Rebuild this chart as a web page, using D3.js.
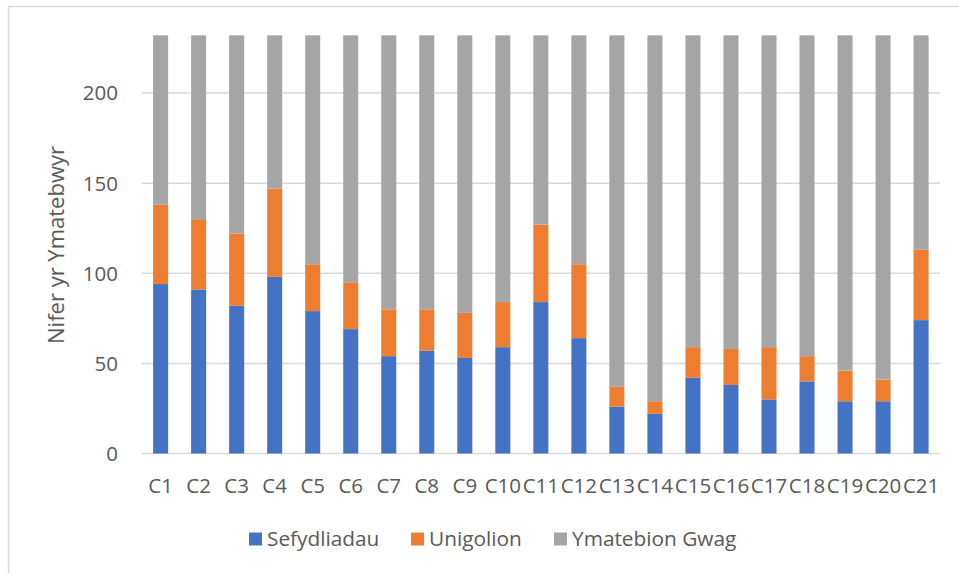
<!DOCTYPE html>
<html>
<head>
<meta charset="utf-8">
<script src="https://cdn.jsdelivr.net/npm/d3@7"></script>
<style>
  body { margin: 0; background: #fff; }
  svg { display: block; }
  text { font-family: "Open Sans", sans-serif; fill: #595959; }
</style>
</head>
<body>
<div id="chart"></div>
<script>
// chart data
var categories = ["C1","C2","C3","C4","C5","C6","C7","C8","C9","C10","C11",
                  "C12","C13","C14","C15","C16","C17","C18","C19","C20","C21"];
var sefydliadau = [94, 91, 82, 98, 79, 69, 54, 57, 53, 59, 84, 64, 26, 22, 42, 38, 30, 40, 29, 29, 74];
var unigolion   = [44, 39, 40, 49, 26, 26, 26, 23, 25, 25, 43, 41, 11, 7, 17, 20, 29, 14, 17, 12, 39];
var gwag        = [94, 102, 110, 85, 127, 137, 152, 152, 154, 148, 105, 127, 195, 203, 173, 174, 173, 178, 186, 191, 119];
var seriesNames = ["Sefydliadau", "Unigolion", "Ymatebion Gwag"];
var yTicks = [0, 50, 100, 150, 200];

var colors = ["#4472C4", "#ED7D31", "#A5A5A5"];
var width = 959, height = 573;

var svg = d3.select("#chart").append("svg")
  .attr("width", width)
  .attr("height", height);

// outer chart frame (cropped at right/bottom)
svg.append("path")
  .attr("d", "M8.5,573 V6.5 H959")
  .attr("fill", "none")
  .attr("stroke", "#d9d9d9")
  .attr("stroke-width", 1.5);

var plotLeft = 141.7, plotRight = 940;

var x = d3.scaleBand()
  .domain(categories)
  .range([plotLeft, plotRight])
  .paddingInner(0.605)
  .paddingOuter(0.3);

var y = d3.scaleLinear()
  .domain([0, 200])
  .range([453.5, 93]);

// gridlines
svg.append("g").selectAll("line")
  .data(yTicks)
  .enter()
  .append("line")
  .attr("x1", plotLeft)
  .attr("x2", plotRight)
  .attr("y1", function(d) { return y(d); })
  .attr("y2", function(d) { return y(d); })
  .attr("stroke", "#d9d9d9")
  .attr("stroke-width", 1.5);

// y tick labels
svg.append("g").selectAll("text")
  .data(yTicks)
  .enter()
  .append("text")
  .attr("x", 118)
  .attr("y", function(d) { return y(d); })
  .attr("dy", "0.36em")
  .attr("text-anchor", "end")
  .attr("font-size", "20.5px")
  .text(function(d) { return d; });

// stacked data
var rows = categories.map(function(c, i) {
  return { cat: c, s0: sefydliadau[i], s1: unigolion[i], s2: gwag[i] };
});
var stack = d3.stack().keys(["s0", "s1", "s2"]);
var layers = stack(rows);

svg.append("g").selectAll("g")
  .data(layers)
  .enter()
  .append("g")
  .attr("fill", function(d, i) { return colors[i]; })
  .selectAll("rect")
  .data(function(d) { return d; })
  .enter()
  .append("rect")
  .attr("x", function(d) { return x(d.data.cat); })
  .attr("y", function(d) { return y(d[1]); })
  .attr("width", x.bandwidth())
  .attr("height", function(d) { return y(d[0]) - y(d[1]); });

// x category labels
svg.append("g").selectAll("text")
  .data(categories)
  .enter()
  .append("text")
  .attr("x", function(d) { return x(d) + x.bandwidth() / 2; })
  .attr("y", 493)
  .attr("text-anchor", "middle")
  .attr("font-size", "20.5px")
  .text(function(d) { return d; });

// y axis title
svg.append("text")
  .attr("transform", "translate(63.5,245) rotate(-90)")
  .attr("text-anchor", "middle")
  .attr("font-size", "22px")
  .text("Nifer yr Ymatebwyr");

// legend
var legendX = [249, 411, 554];
var legend = svg.append("g").selectAll("g")
  .data(seriesNames)
  .enter()
  .append("g")
  .attr("transform", function(d, i) { return "translate(" + legendX[i] + ",0)"; });

legend.append("rect")
  .attr("x", 0)
  .attr("y", 532.5)
  .attr("width", 13)
  .attr("height", 13)
  .attr("fill", function(d, i) { return colors[i]; });

legend.append("text")
  .attr("x", 18)
  .attr("y", 546)
  .attr("font-size", "20.8px")
  .text(function(d) { return d; });
</script>
</body>
</html>
